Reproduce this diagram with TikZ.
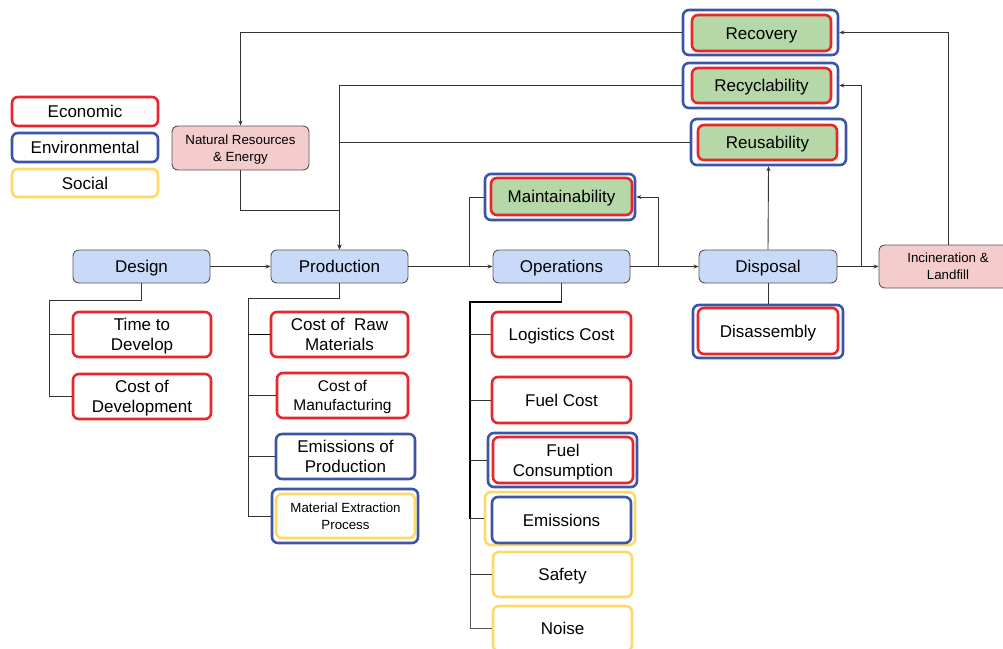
\documentclass[tikz,border=0pt]{standalone}
\usepackage{fontspec}
\setmainfont{Liberation Sans}
\usetikzlibrary{arrows.meta}

\definecolor{stageblue}{HTML}{C9DAF8}
\definecolor{endpink}{HTML}{F4CCCC}
\definecolor{loopgreen}{HTML}{B6D7A8}
\definecolor{ecored}{HTML}{E8262D}
\definecolor{envblue}{HTML}{3D55A5}
\definecolor{socyellow}{HTML}{FFD966}
\definecolor{edge}{HTML}{555555}
\definecolor{wire}{HTML}{333333}

\begin{document}
\begin{tikzpicture}[x=1pt, y=-1pt,
  base/.style={rounded corners=6pt, align=center, inner sep=0pt, text=black,
    font=\fontsize{17}{20}\selectfont, text height=12.2pt, text depth=0pt},
  twoline/.style={text height=32.2pt, text depth=0pt},
  midtext/.style={font=\fontsize{15.5}{19}\selectfont, text height=30.1pt, text depth=0pt},
  smalltext/.style={font=\fontsize{13.3}{17}\selectfont, text height=26.5pt, text depth=0pt},
  stage/.style={base, draw=edge, fill=stageblue, line width=0.9pt},
  endbox/.style={base, draw=edge, fill=endpink, line width=0.9pt},
  eco/.style={base, draw=ecored, line width=2.6pt},
  env/.style={base, draw=envblue, line width=2.6pt},
  soc/.style={base, draw=socyellow, line width=2.6pt},
  sz/.style 2 args={minimum width=#1pt, minimum height=#2pt},
  wireline/.style={draw=wire, line width=0.9pt},
  arr/.style={wireline, -{Stealth[length=5pt,width=4pt]}},
  trunk/.style={draw=black, line width=2.4pt}
]
\useasboundingbox (0,0) rectangle (1003,648);

% ---- legend ----
\node[eco, sz={146}{29}] (lgeco) at (85,111.5) {Economic};
\node[env, sz={146}{29}] (lgenv) at (85,147.5) {Environmental};
\node[soc, sz={146}{28}] (lgsoc) at (85,183) {Social};

% ---- life-cycle stages ----
\node[stage, sz={137}{33}] (design) at (141.5,266.5) {Design};
\node[stage, sz={137}{33}] (prod)   at (339.5,266.5) {Production};
\node[stage, sz={137}{33}] (ops)    at (561.5,266.5) {Operations};
\node[stage, sz={138}{33}] (disp)   at (768,266.5) {Disposal};
\node[endbox, smalltext, sz={138}{43}] (incin) at (948,266.5) {Incineration \&\\Landfill};
\node[endbox, smalltext, sz={137}{44}] (natres) at (240.5,148) {Natural Resources\\\& Energy};

% ---- end-of-life loops ----
\node[env, sz={155}{45}] (recO) at (760.5,32.5) {};
\node[eco, fill=loopgreen, sz={139}{36}] (rec) at (761.5,33) {Recovery};
\node[env, sz={155}{45}] (recyO) at (760.5,85.5) {};
\node[eco, fill=loopgreen, sz={139}{35}] (recy) at (761.5,85.5) {Recyclability};
\node[env, sz={155}{46}] (reusO) at (768.5,142) {};
\node[eco, fill=loopgreen, sz={139}{35}] (reus) at (767.5,142.5) {Reusability};
\node[env, sz={150}{46}] (maintO) at (560,197) {};
\node[eco, fill=loopgreen, sz={141}{37}] (maint) at (561.5,196.5) {Maintainability};

% ---- design criteria ----
\node[eco, twoline, sz={138}{45}] (time)    at (142,334.5) {Time to\\Develop};
\node[eco, twoline, sz={138}{45}] (costdev) at (142,396.5) {Cost of\\Development};

% ---- production criteria ----
\node[eco, twoline, sz={137}{45}] (raw)    at (339.5,334.5) {Cost of\ \ Raw\\Materials};
\node[eco, midtext, sz={131}{45}] (manuf) at (342.5,395.5) {Cost of\\Manufacturing};
\node[env, twoline, sz={139}{45}] (emprod) at (345.5,456.5) {Emissions of\\Production};
\node[env, sz={146}{54}] (matexO) at (345,516) {};
\node[soc, smalltext, sz={139}{44}] (matex) at (345.5,516) {Material Extraction\\Process};

% ---- operations criteria ----
\node[eco, sz={139}{45}] (logi)  at (561.5,334.5) {Logistics Cost};
\node[eco, sz={139}{46}] (fuelc) at (561.5,400) {Fuel Cost};
\node[env, sz={149}{54}] (fconsO) at (562.5,460) {};
\node[eco, twoline, sz={140}{46}] (fcons) at (563,460) {Fuel\\Consumption};
\node[soc, sz={150}{53}] (emisO) at (560,518.5) {};
\node[env, sz={139}{46}] (emis) at (561.5,520) {Emissions};
\node[soc, sz={139}{45}] (safety) at (562.5,574.5) {Safety};
\node[soc, sz={139}{45}] (noise)  at (562.5,628.5) {Noise};

% ---- disposal criterion ----
\node[env, sz={150}{53}] (disassO) at (768,331.5) {};
\node[eco, sz={140}{46}] (disass) at (768,331) {Disassembly};

% ---- main flow ----
\draw[arr] (design.east) -- (prod.west);
\draw[arr] (prod.east) -- (ops.west);
\draw[arr] (ops.east) -- (disp.west);
\draw[arr] (disp.east) -- (incin.west);

% ---- feedback paths ----
\coordinate (nrjoin) at (339.5,210);
\draw[arr] (recO.west) -| (natres.north);
\draw[arr] (natres.south) |- (nrjoin) -- (prod.north);
\draw[arr] (recyO.west) -| (prod.north);
\draw[wireline] (reusO.west) -- (reusO.west -| prod.north);

\coordinate (opsin)  at (469,266.5);
\coordinate (opsout) at (658,266.5);
\draw[wireline] (opsin) |- (maintO.west);
\draw[arr] (opsout) |- (maintO.east);

\coordinate (recyjoin) at (861,266.5);
\draw[arr] (disp.north) -- (reusO.south);
\draw[arr] (recyjoin) |- (recyO.east);
\draw[arr] (incin.north) |- (recO.east);
\draw[wireline] (disp.south) -- (disassO.north);

% ---- criteria trees ----
\coordinate (dtrunk) at (49,300);
\draw[wireline] (design.south) |- (dtrunk) |- (costdev.west);
\draw[wireline] (dtrunk |- time.west) -- (time.west);

\coordinate (ptrunk) at (248,298);
\draw[wireline] (prod.south) |- (ptrunk) |- (matexO.west);
\draw[trunk, line width=1.8pt] (ptrunk |- raw.west) -- (raw.west);
\draw[wireline] (ptrunk |- manuf.west) -- (manuf.west);
\draw[wireline] (ptrunk |- emprod.west) -- (emprod.west);

\coordinate (otrunk) at (470,302);
\draw[wireline] (ops.south) -- (ops.south |- otrunk);
\draw[trunk] (ops.south |- otrunk) -- (otrunk) -- (otrunk |- emisO.west);
\draw[wireline, draw=edge] (otrunk |- emisO.west) |- (noise.west);
\draw[wireline] (otrunk |- logi.west) -- (logi.west);
\draw[wireline] (otrunk |- fuelc.west) -- (fuelc.west);
\draw[wireline] (otrunk |- fconsO.west) -- (fconsO.west);
\draw[wireline] (otrunk |- emisO.west) -- (emisO.west);
\draw[wireline] (otrunk |- safety.west) -- (safety.west);
\end{tikzpicture}
\end{document}
